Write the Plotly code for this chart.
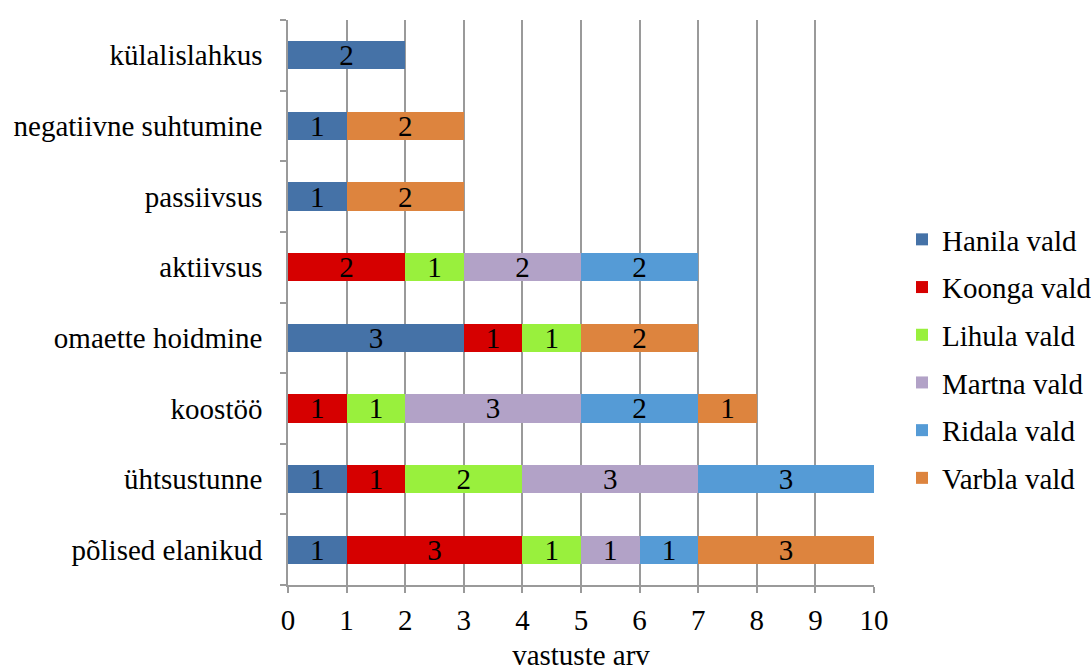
import plotly.graph_objects as go

categories = ["põlised elanikud", "ühtsustunne", "koostöö", "omaette hoidmine",
              "aktiivsus", "passiivsus", "negatiivne suhtumine", "külalislahkus"]
series_names = ["Hanila vald", "Koonga vald", "Lihula vald", "Martna vald", "Ridala vald", "Varbla vald"]
hanila = [1, 1, 0, 3, 0, 1, 1, 2]
koonga = [3, 1, 1, 1, 2, 0, 0, 0]
lihula = [1, 2, 1, 1, 1, 0, 0, 0]
martna = [1, 3, 3, 0, 2, 0, 0, 0]
ridala = [1, 3, 2, 0, 2, 0, 0, 0]
varbla = [3, 0, 1, 2, 0, 2, 2, 0]
colors = ["#4572A7", "#D60000", "#99F03D", "#B2A2C7", "#559BD6", "#DD843E"]
x_ticks = list(range(0, 11))

FONT = "Liberation Serif"

fig = go.Figure()
for name, vals, col in zip(series_names, [hanila, koonga, lihula, martna, ridala, varbla], colors):
    fig.add_trace(go.Bar(
        y=categories, x=[v if v else None for v in vals], name=name, orientation="h",
        marker=dict(color=col, line=dict(width=0)),
        text=[str(v) if v else "" for v in vals], textposition="inside",
        insidetextanchor="middle", textangle=0, constraintext="none",
        textfont=dict(family=FONT, size=29, color="black"),
        legendgroup=name, width=0.4,
    ))

fig.update_layout(
    barmode="stack",
    width=1091, height=671,
    margin=dict(l=288, r=217, t=20, b=86),
    paper_bgcolor="white", plot_bgcolor="white",
    font=dict(family=FONT, color="black"),
    showlegend=True,
    legend=dict(xref="container", x=902 / 1091, y=0.40, xanchor="left", yanchor="middle",
                traceorder="grouped", tracegroupgap=7,
                font=dict(family=FONT, size=29, color="black"),
                itemwidth=30, entrywidthmode="pixels", entrywidth=130),
    xaxis=dict(range=[0, 10], tickvals=x_ticks, showgrid=True, gridcolor="#9A9A9A", gridwidth=1.5,
               showline=True, linecolor="#9A9A9A", linewidth=1.5,
               ticks="outside", ticklen=6, tickcolor="#9A9A9A", tickwidth=1.5,
               tickfont=dict(family=FONT, size=29, color="black"), ticklabelstandoff=2,
               title=dict(text="vastuste arv", font=dict(family=FONT, size=29, color="black"), standoff=21),
               zeroline=False, fixedrange=True, automargin=False),
    yaxis=dict(categoryorder="array", categoryarray=categories, showgrid=False,
               showline=True, linecolor="#9A9A9A", linewidth=1.5,
               ticks="outside", ticklen=6, tickcolor="#9A9A9A", tickwidth=1.5,
               tickson="boundaries",
               tickfont=dict(family=FONT, size=29, color="black"), ticklabelstandoff=18,
               fixedrange=True, automargin=False),
)

fig.write_html("out.html", config={"displayModeBar": False},
               post_script="document.body.style.margin='0';")
